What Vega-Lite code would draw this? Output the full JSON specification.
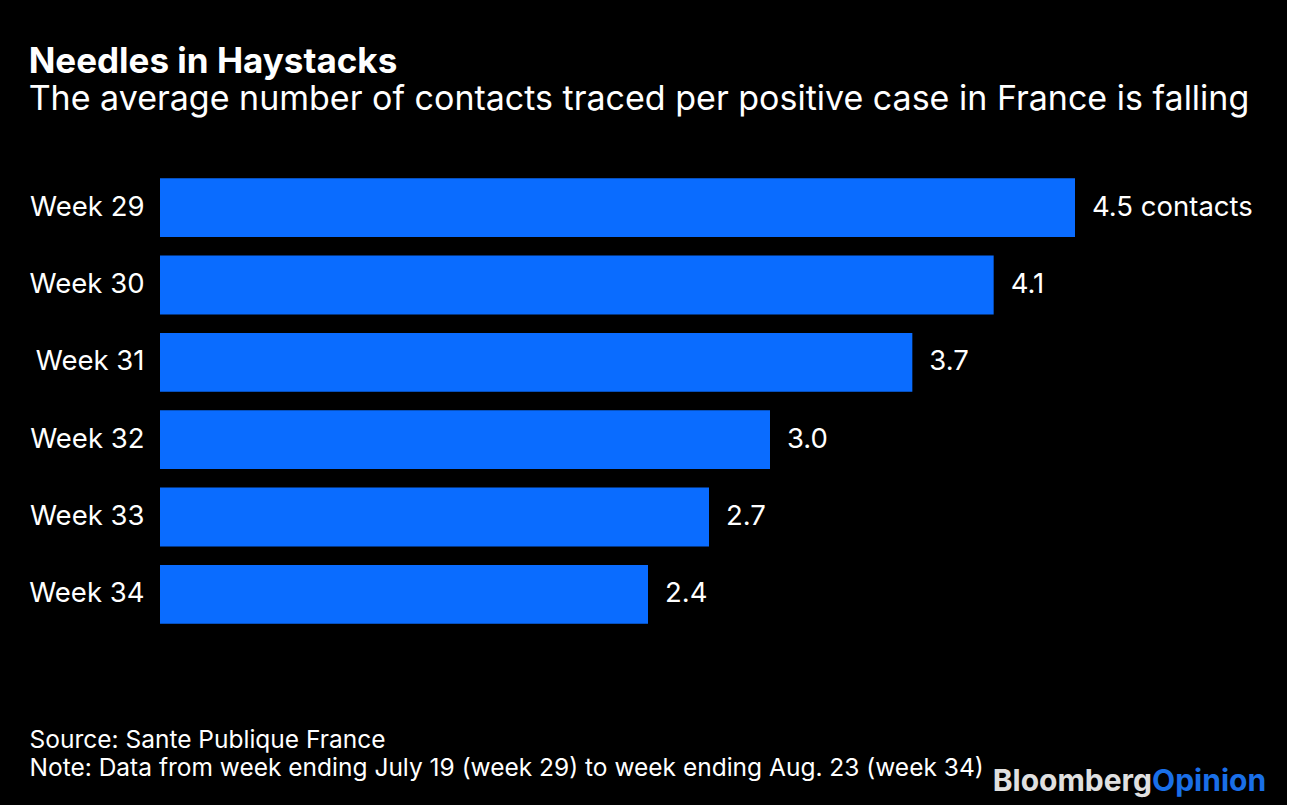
{
  "$schema": "https://vega.github.io/schema/vega-lite/v6.json",
  "background": "#000000",
  "padding": {"left": 28, "top": 45, "right": 20, "bottom": 8},
  "width": 915,
  "height": 464,
  "config": {
    "font": "Inter",
    "view": {"stroke": null}
  },
  "title": {
    "text": "Needles in Haystacks",
    "subtitle": "The average number of contacts traced per positive case in France is falling",
    "anchor": "start",
    "frame": "bounds",
    "color": "#ffffff",
    "subtitleColor": "#ffffff",
    "font": "Inter",
    "fontSize": 35,
    "fontWeight": "bold",
    "subtitleFontSize": 34,
    "subtitleFont": "Inter",
    "subtitlePadding": 3,
    "offset": 52
  },
  "datasets": {
    "bars": [
      {"week": "Week 29", "value": 4.5, "label": "4.5 contacts"},
      {"week": "Week 30", "value": 4.1, "label": "4.1"},
      {"week": "Week 31", "value": 3.7, "label": "3.7"},
      {"week": "Week 32", "value": 3.0, "label": "3.0"},
      {"week": "Week 33", "value": 2.7, "label": "2.7"},
      {"week": "Week 34", "value": 2.4, "label": "2.4"}
    ],
    "logo": [
      {"part": "Bloomberg", "pos": 4.879},
      {"part": "Opinion", "pos": 4.879}
    ]
  },
  "layer": [
    {
      "data": {"name": "bars"},
      "mark": {"type": "bar", "color": "#0a6cff"},
      "encoding": {
        "y": {
          "field": "week", "type": "nominal", "sort": null,
          "scale": {"paddingInner": 0.24, "paddingOuter": 0.12},
          "axis": {
            "title": null, "domain": false, "ticks": false,
            "labelColor": "#ffffff", "labelFontSize": 27.5, "labelPadding": 16,
            "labelFont": "Inter"
          }
        },
        "x": {
          "field": "value", "type": "quantitative",
          "scale": {"domain": [0, 4.5], "nice": false},
          "axis": {
            "domain": false, "ticks": false, "labels": false, "grid": false,
            "title": ["Source: Sante Publique France", "Note: Data from week ending July 19 (week 29) to week ending Aug. 23 (week 34)"],
            "titleColor": "#ffffff", "titleFontSize": 24.5, "titleFontWeight": "normal",
            "titleAnchor": "start", "titleAlign": "left", "titleBaseline": "alphabetic",
            "titleX": -131, "titleY": 114, "titleLineHeight": 28, "titleFont": "Inter"
          }
        }
      }
    },
    {
      "data": {"name": "bars"},
      "mark": {"type": "text", "align": "left", "dx": 17, "fontSize": 27.5, "color": "#ffffff", "baseline": "middle", "font": "Inter"},
      "encoding": {
        "y": {"field": "week", "type": "nominal", "sort": null},
        "x": {"field": "value", "type": "quantitative"},
        "text": {"field": "label"}
      }
    },
    {
      "data": {"name": "logo"},
      "transform": [{"filter": "datum.part === 'Bloomberg'"}],
      "mark": {"type": "text", "align": "right", "baseline": "alphabetic", "fontSize": 30, "fontWeight": "bold", "font": "Inter", "color": "#e0e0e0", "dy": 158},
      "encoding": {
        "x": {"field": "pos", "type": "quantitative"},
        "y": {"value": "height"},
        "text": {"field": "part"}
      }
    },
    {
      "data": {"name": "logo"},
      "transform": [{"filter": "datum.part === 'Opinion'"}],
      "mark": {"type": "text", "align": "left", "baseline": "alphabetic", "fontSize": 30, "fontWeight": "bold", "font": "Inter", "color": "#1a6fe8", "dy": 158},
      "encoding": {
        "x": {"field": "pos", "type": "quantitative"},
        "y": {"value": "height"},
        "text": {"field": "part"}
      }
    }
  ]
}
